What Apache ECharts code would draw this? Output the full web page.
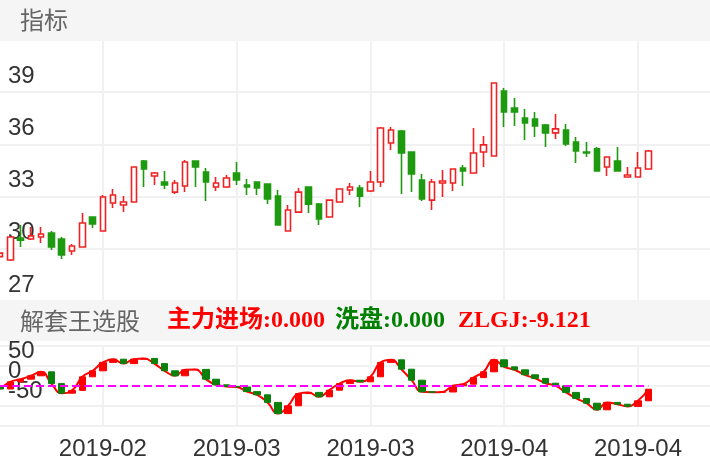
<!DOCTYPE html>
<html><head><meta charset="utf-8">
<script src="https://cdn.jsdelivr.net/npm/echarts@6/dist/echarts.min.js"></script>
<style>html,body{margin:0;padding:0;background:#fff}#c{width:710px;height:472px}</style>
</head><body><div id="c"></div>
<script>
const dates = ['2019-01-22','2019-01-23','2019-01-24','2019-01-25','2019-01-28','2019-01-29','2019-01-30','2019-01-31','2019-02-01','2019-02-11',
'2019-02-12','2019-02-13','2019-02-14','2019-02-15','2019-02-18','2019-02-19','2019-02-20','2019-02-21','2019-02-22','2019-02-25',
'2019-02-26','2019-02-27','2019-02-28','2019-03-01','2019-03-04','2019-03-05','2019-03-06','2019-03-07','2019-03-08','2019-03-11',
'2019-03-12','2019-03-13','2019-03-14','2019-03-15','2019-03-18','2019-03-19','2019-03-20','2019-03-21','2019-03-22','2019-03-25',
'2019-03-26','2019-03-27','2019-03-28','2019-03-29','2019-04-01','2019-04-02','2019-04-03','2019-04-04','2019-04-08','2019-04-09',
'2019-04-10','2019-04-11','2019-04-12','2019-04-15','2019-04-16','2019-04-17','2019-04-18','2019-04-19','2019-04-22','2019-04-23',
'2019-04-24','2019-04-25','2019-04-26','2019-04-29','2019-04-30','2019-05-06','2019-05-07','2019-05-08','2019-05-09','2019-05-10'];

const opens  = [29.55,29.36,30.62,30.56,30.68,30.91,30.56,29.87,30.10,31.83,31.02,32.63,32.52,32.69,35.05,34.18,33.84,33.26,33.61,35.05,
                34.41,33.55,33.55,34.36,33.67,33.84,33.72,33.03,31.02,32.11,33.55,32.57,31.83,32.69,33.38,33.49,33.32,33.84,36.08,36.77,
                35.56,33.95,32.80,33.78,33.78,34.64,34.36,35.56,35.33,39.07,38.09,37.52,37.46,37.11,36.66,36.83,36.14,35.56,35.74,34.70,
                35.05,34.13,34.13,34.59];
const closes = [29.75,30.68,30.50,30.74,30.85,30.10,29.64,30.16,31.48,31.43,32.98,33.09,32.69,34.70,34.59,34.36,33.67,33.78,34.99,34.70,
                33.84,33.78,34.07,33.95,33.55,33.49,32.86,31.37,32.23,33.26,32.57,31.71,32.80,33.44,33.55,33.03,33.84,36.94,36.83,35.51,
                34.30,32.86,33.84,33.90,34.59,34.47,35.51,35.97,39.53,37.86,37.86,37.23,37.06,36.66,36.89,36.02,35.62,35.51,34.47,35.28,
                34.47,34.24,34.64,35.62];
const lows   = [29.50,29.30,30.10,30.50,30.33,29.93,29.41,29.64,30.10,31.20,31.02,32.34,32.11,32.66,33.55,33.67,33.44,33.15,33.26,33.55,
                32.75,33.32,33.49,33.67,33.09,33.09,32.57,31.37,31.00,32.06,32.06,31.37,31.80,32.66,33.09,32.40,33.26,33.55,35.68,33.15,
                33.26,32.75,32.23,32.98,33.32,33.61,34.36,34.70,35.33,37.00,37.06,36.25,36.43,35.85,36.31,35.91,34.93,35.28,34.45,34.18,
                34.45,34.12,34.12,34.57];
const highs  = [29.78,30.72,31.37,31.25,31.25,31.02,30.68,30.28,32.06,31.85,33.09,33.44,33.03,34.75,35.10,34.41,34.47,33.95,35.10,35.07,
                34.64,34.13,34.24,34.99,34.01,33.86,33.75,33.38,32.52,33.49,33.57,32.63,32.83,33.47,33.78,33.67,34.47,37.00,37.00,36.83,
                35.58,34.30,34.01,34.53,34.62,34.82,36.94,36.48,39.56,39.24,38.67,38.03,37.86,37.17,37.75,37.17,36.43,36.14,35.85,35.30,
                35.85,34.70,35.56,35.68];

const zlgjPrev = -49;
const zlgj = [-57.5,-39.5,-33,-24.5,-14.5,-44,-68,-61,-27,-12,9,17,6,17,19,6,-12,-24.5,-9.5,-8.5,
              -33,-47,-51,-52.5,-64,-72,-91,-119,-99.5,-69,-66,-77,-60.5,-44,-35.5,-39.5,-27,9,15.5,-8,
              -35.5,-64.5,-65.5,-65,-49.5,-45.5,-29,-14.5,15.5,-2,-9.5,-22,-31,-43,-49.5,-66,-81,-93,-109.5,-91,
              -95.5,-101,-87,-58];
const magentaLevel = -50;

const priceTicks = [27, 30, 33, 36, 39];
const subTicksMain = [0, -50];
const subTicksTop = [50];

const legendItems = [
  {text: '主力进场:0.000', color: '#ff0000', x: 167},
  {text: '洗盘:0.000', color: '#008000', x: 335},
  {text: 'ZLGJ:-9.121', color: '#ff0000', x: 458}
];

const upC = '#ee2222', downC = '#1e9a10';
const gridLine = {show: true, lineStyle: {color: '#f1f1f3', width: 2}};
const catInterval = function (i) { return i % 13 === 10; };

const priceData = opens.map((o, i) => [o, closes[i], lows[i], highs[i]]);
const subBars = zlgj.map((v, i) => {
  const p = i === 0 ? zlgjPrev : zlgj[i - 1];
  return [p, v, Math.min(p, v), Math.max(p, v)];
});

const subLabel = (ticks, extra) => Object.assign({
  inside: true, fontSize: 24, color: '#333', fontFamily: 'Liberation Sans',
  verticalAlign: 'top', lineHeight: 10,
  formatter: v => ticks.indexOf(v) >= 0 ? String(v) : ''
}, extra);

const chart = echarts.init(document.getElementById('c'), null, {renderer: 'canvas'});
const option = {
  animation: false,
  backgroundColor: '#fff',
  grid: [
    {left: 0, right: 0, top: 40, height: 261},
    {left: 0, right: 0, top: 346, height: 80}
  ],
  xAxis: [
    {type: 'category', gridIndex: 0, data: dates, boundaryGap: false,
     axisLine: {show: false}, axisTick: {show: false}, axisLabel: {show: false},
     splitLine: Object.assign({interval: catInterval}, gridLine)},
    {type: 'category', gridIndex: 1, data: dates, boundaryGap: false,
     axisLine: {show: false}, axisTick: {show: false},
     axisLabel: {interval: catInterval, formatter: v => v.slice(0, 7), fontSize: 24, color: '#333',
                 fontFamily: 'Liberation Sans', margin: 11},
     splitLine: Object.assign({interval: catInterval}, gridLine)}
  ],
  yAxis: [
    {type: 'value', gridIndex: 0, position: 'left', min: 27, max: 42, interval: 3,
     axisLine: {show: false}, axisTick: {show: false},
     axisLabel: {inside: true, fontSize: 24, color: '#333', fontFamily: 'Liberation Sans',
                 verticalAlign: 'bottom', lineHeight: 32,
                 formatter: v => priceTicks.indexOf(v) >= 0 ? String(v) : ''},
     splitLine: gridLine},
    {type: 'value', gridIndex: 1, position: 'left', min: -150, max: 50, interval: 50,
     axisLine: {show: false}, axisTick: {show: false},
     axisLabel: subLabel(subTicksMain, {showMaxLabel: false}),
     splitLine: gridLine},
    {type: 'value', gridIndex: 1, position: 'left', offset: 0, min: -150, max: 50, interval: 50,
     axisLine: {show: false}, axisTick: {show: false},
     axisLabel: subLabel(subTicksTop, {showMaxLabel: true}),
     splitLine: {show: false}}
  ],
  series: [
    {type: 'candlestick', xAxisIndex: 0, yAxisIndex: 0, data: priceData, barWidth: 6,
     itemStyle: {color: '#ffffff', color0: downC, borderColor: upC, borderColor0: downC, borderWidth: 1.6}},
    {type: 'line', xAxisIndex: 1, yAxisIndex: 1, data: zlgj, smooth: true, symbol: 'none', z: 2,
     lineStyle: {color: '#ff0000', width: 2},
     markLine: {silent: true, symbol: 'none', label: {show: false},
                lineStyle: {color: '#ff00ff', type: [8, 4], width: 2},
                data: [[{coord: [0, magentaLevel]}, {coord: [zlgj.length - 1, magentaLevel]}]]}},
    {type: 'candlestick', xAxisIndex: 1, yAxisIndex: 1, data: subBars, barWidth: 7, z: 3,
     itemStyle: {color: '#ff0000', color0: '#0b800b', borderColor: '#ff0000', borderColor0: '#0b800b', borderWidth: 1}}
  ],
  graphic: [
    {type: 'rect', z: 100, shape: {x: 0, y: 0, width: 710, height: 41}, style: {fill: '#f5f5f5'}},
    {type: 'text', z: 101, x: 20, y: 20, style: {text: '指标', fill: '#666', font: '24px "Noto Sans CJK SC", sans-serif',
      textVerticalAlign: 'middle', verticalAlign: 'middle'}},
    {type: 'rect', z: 100, shape: {x: 0, y: 300, width: 710, height: 41}, style: {fill: '#f5f5f5'}},
    {type: 'text', z: 101, x: 20, y: 321, style: {text: '解套王选股', fill: '#666', font: '24px "Noto Sans CJK SC", sans-serif',
      textVerticalAlign: 'middle', verticalAlign: 'middle'}}
  ].concat(legendItems.map(it => ({
    type: 'text', z: 101, x: it.x, y: 321,
    style: {text: it.text, fill: it.color, font: 'bold 24px "Liberation Serif", "Noto Sans CJK SC", serif',
            textVerticalAlign: 'middle', verticalAlign: 'middle'}
  })))
};
chart.setOption(option);
</script>
</body></html>
